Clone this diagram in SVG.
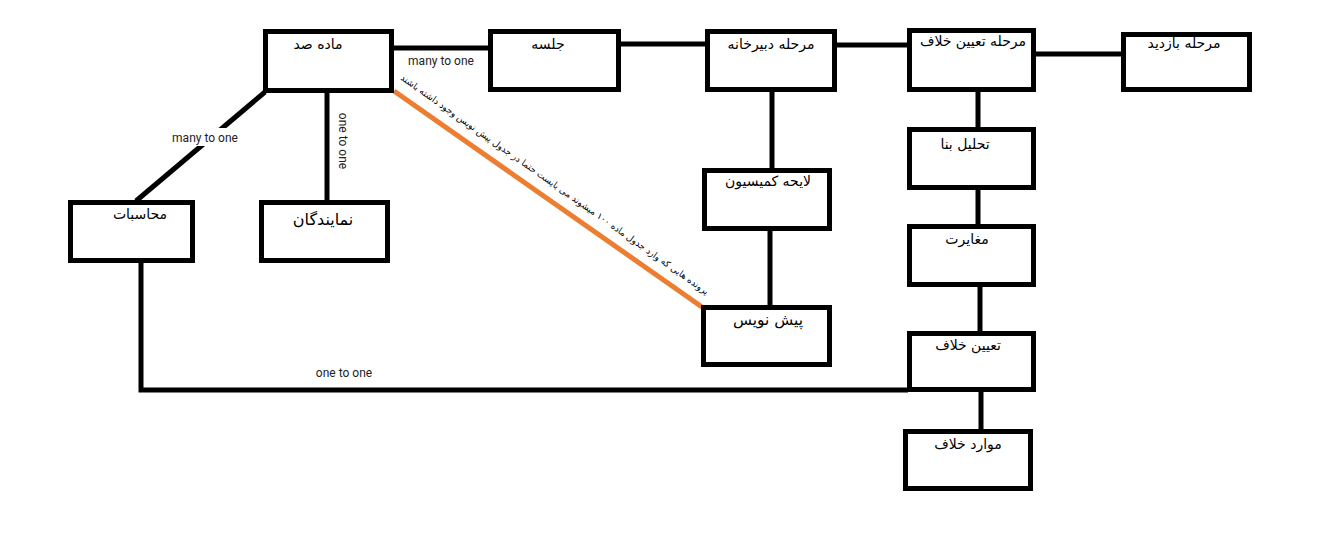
<svg xmlns="http://www.w3.org/2000/svg" width="1319" height="554" viewBox="0 0 1319 554">
  <style>
    .box { fill: #fff; stroke: #000; stroke-width: 5; }
    .link { fill: none; stroke: #000; stroke-width: 5; }
    .note { fill: none; stroke: #ED7D31; stroke-width: 5; }
    .label { font-family: "DejaVu Sans", "Noto Sans", sans-serif; font-size: 14px; fill: #000; text-anchor: middle; direction: rtl; }
    .rel { font-family: Roboto, "Liberation Sans", sans-serif; font-size: 12px; fill: #222; text-anchor: middle; }
    .small { font-family: "DejaVu Sans", "Noto Sans", sans-serif; font-size: 9px; fill: #000; text-anchor: middle; direction: rtl; }
  </style>
  <rect width="1319" height="554" fill="#fff"/>

  <!-- connectors -->
  <g id="connectors">
    <line class="link" x1="393" y1="48" x2="488" y2="48"/>
    <line class="link" x1="620" y1="44" x2="706" y2="44"/>
    <line class="link" x1="836" y1="45" x2="908" y2="45"/>
    <line class="link" x1="1035" y1="54" x2="1122" y2="54"/>
    <line class="link" x1="265" y1="92" x2="136" y2="201"/>
    <line class="link" x1="327" y1="92" x2="327" y2="201"/>
    <line class="link" x1="772" y1="92" x2="772" y2="169"/>
    <line class="link" x1="770" y1="230" x2="770" y2="306"/>
    <line class="link" x1="978" y1="92" x2="978" y2="128"/>
    <line class="link" x1="978" y1="189" x2="978" y2="225"/>
    <line class="link" x1="980" y1="286" x2="980" y2="332"/>
    <line class="link" x1="981" y1="391" x2="981" y2="430"/>
    <polyline class="link" points="141,262 141,390 908,390"/>
    <line class="note" x1="394" y1="91" x2="702" y2="307"/>

    <rect x="168" y="128" width="76" height="18" fill="#fff"/>
    <text class="rel" x="205" y="142">many to one</text>
    <text class="rel" x="441" y="65">many to one</text>
    <text class="rel" transform="translate(339,141) rotate(90)">one to one</text>
    <text class="rel" x="344" y="377">one to one</text>
    <text class="small" transform="translate(553,187) rotate(35.2)">پرونده هایی که  وارد جدول ماده ۱۰۰ میشوند می بایست حتما در جدول پیش نویس وجود داشته باشند</text>
  </g>

  <g id="n-madeh">
    <rect class="box" x="265.5" y="31.5" width="126" height="59"/>
    <text class="label" x="318" y="49">ماده صد</text>
  </g>
  <g id="n-jalaseh">
    <rect class="box" x="490.5" y="31.5" width="128" height="58"/>
    <text class="label" x="548" y="49">جلسه</text>
  </g>
  <g id="n-dabirkhaneh">
    <rect class="box" x="707.5" y="31.5" width="127" height="58"/>
    <text class="label" x="771" y="49">مرحله دبیرخانه</text>
  </g>
  <g id="n-tayin-marhaleh">
    <rect class="box" x="909.5" y="30.5" width="124" height="59"/>
    <text class="label" x="973" y="46">مرحله تعیین خلاف</text>
  </g>
  <g id="n-bazdid">
    <rect class="box" x="1123.5" y="34.5" width="126" height="55"/>
    <text class="label" x="1184" y="48">مرحله بازدید</text>
  </g>
  <g id="n-mohasebat">
    <rect class="box" x="70.5" y="202.5" width="122" height="58"/>
    <text class="label" x="140" y="219">محاسبات</text>
  </g>
  <g id="n-namayandegan">
    <rect class="box" x="261.5" y="202.5" width="126" height="58"/>
    <text class="label" x="323" y="225" style="font-size:16px">نمایندگان</text>
  </g>
  <g id="n-layeheh">
    <rect class="box" x="704.5" y="170.5" width="125" height="58"/>
    <text class="label" x="768" y="186">لایحه کمیسیون</text>
  </g>
  <g id="n-pishnevis">
    <rect class="box" x="703.5" y="307.5" width="126" height="57"/>
    <text class="label" x="768" y="325" style="font-size:15.5px">پیش نویس</text>
  </g>
  <g id="n-tahlil">
    <rect class="box" x="909.5" y="129.5" width="124" height="58"/>
    <text class="label" x="965" y="149">تحلیل بنا</text>
  </g>
  <g id="n-moghayerat">
    <rect class="box" x="909.5" y="226.5" width="124" height="58"/>
    <text class="label" x="967" y="244">مغایرت</text>
  </g>
  <g id="n-tayin">
    <rect class="box" x="909.5" y="333.5" width="124" height="56"/>
    <text class="label" x="968" y="350">تعیین خلاف</text>
  </g>
  <g id="n-mavared">
    <rect class="box" x="905.5" y="431.5" width="125" height="57"/>
    <text class="label" x="968" y="449">موارد خلاف</text>
  </g>
</svg>
